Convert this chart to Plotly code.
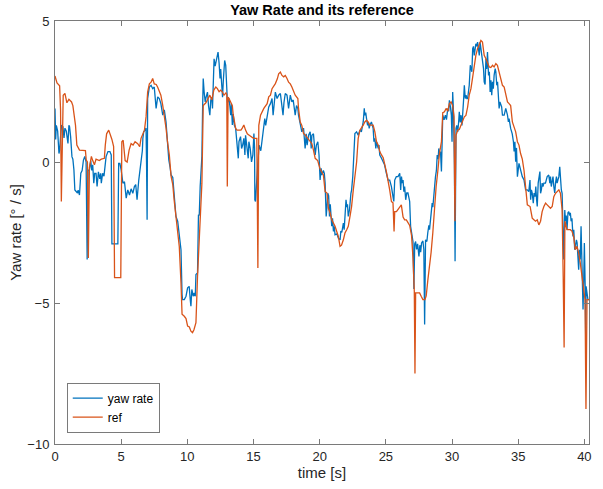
import plotly.graph_objects as go

# ---- data: yaw rate (measured) ----
t_yaw = [0.0, 0.05, 0.1, 0.2, 0.3, 0.35, 0.42, 0.5, 0.6, 0.68, 0.75, 0.85, 0.98, 1.05, 1.1, 1.18, 1.28, 1.35, 1.43, 1.5,
         1.6, 1.7, 1.75, 1.85, 1.95, 2.05, 2.15, 2.25, 2.35, 2.43, 2.5, 2.6, 2.7, 2.78, 2.85, 2.93, 3.0, 3.1, 3.18, 3.28,
         3.38, 3.45, 3.5, 3.6, 3.7, 3.78, 3.86, 4.0, 4.15, 4.25, 4.3, 4.75, 4.81, 4.9, 5.0, 5.13, 5.25, 5.38, 5.5, 5.63,
         5.75, 5.88, 6.0, 6.1, 6.2, 6.33, 6.5, 6.6, 6.64, 6.7, 6.8, 6.88, 6.92, 6.96, 7.0, 7.13, 7.26, 7.38, 7.5, 7.64,
         7.76, 7.88, 8.0, 8.14, 8.26, 8.39, 8.5, 8.6, 8.7, 8.77, 8.9, 9.0, 9.08, 9.14, 9.27, 9.39, 9.52, 9.6, 9.64, 9.77,
         9.9, 10.02, 10.14, 10.22, 10.27, 10.34, 10.44, 10.52, 10.6, 10.65, 10.77, 10.84, 10.9, 10.97, 11.02, 11.1, 11.15, 11.2, 11.27, 11.35,
         11.42, 11.52, 11.6, 11.7, 11.77, 11.85, 11.9, 11.97, 12.02, 12.1, 12.15, 12.22, 12.32, 12.4, 12.47, 12.52, 12.6, 12.66, 12.72, 12.82,
         12.9, 12.97, 13.03, 13.1, 13.15, 13.22, 13.28, 13.33, 13.4, 13.47, 13.55, 13.65, 13.77, 13.85, 13.9, 14.02, 14.1, 14.18, 14.27, 14.35,
         14.4, 14.5, 14.6, 14.65, 14.75, 14.85, 14.95, 15.03, 15.08, 15.1, 15.15, 15.25, 15.35, 15.42, 15.55, 15.65, 15.78, 15.85, 15.92, 16.03,
         16.15, 16.28, 16.4, 16.48, 16.55, 16.6, 16.65, 16.78, 16.9, 17.03, 17.12, 17.23, 17.3, 17.4, 17.53, 17.65, 17.78, 17.9, 18.0, 18.1,
         18.15, 18.25, 18.35, 18.4, 18.53, 18.65, 18.78, 18.85, 18.9, 18.98, 19.05, 19.16, 19.28, 19.36, 19.41, 19.53, 19.66, 19.75, 19.86, 19.95,
         20.03, 20.11, 20.16, 20.28, 20.35, 20.41, 20.49, 20.55, 20.61, 20.68, 20.74, 20.8, 20.86, 20.91, 20.97, 21.04, 21.1, 21.16, 21.3, 21.41,
         21.54, 21.6, 21.67, 21.79, 21.85, 21.91, 21.99, 22.05, 22.1, 22.16, 22.25, 22.36, 22.41, 22.5, 22.56, 22.61, 22.66, 22.79, 22.91, 23.04,
         23.15, 23.29, 23.37, 23.41, 23.48, 23.54, 23.62, 23.68, 23.74, 23.8, 23.91, 24.04, 24.1, 24.17, 24.24, 24.3, 24.42, 24.48, 24.54, 24.67,
         24.79, 24.9, 25.04, 25.17, 25.29, 25.42, 25.54, 25.6, 25.67, 25.79, 25.92, 26.05, 26.12, 26.18, 26.24, 26.3, 26.36, 26.42, 26.5, 26.58,
         26.67, 26.75, 26.8, 26.87, 26.95, 27.05, 27.12, 27.18, 27.25, 27.32, 27.4, 27.5, 27.57, 27.63, 27.7, 27.8, 27.87, 27.93, 28.0, 28.1,
         28.17, 28.25, 28.3, 28.42, 28.5, 28.55, 28.62, 28.68, 28.75, 28.82, 28.88, 28.95, 29.0, 29.08, 29.13, 29.2, 29.25, 29.3, 29.4, 29.5,
         29.58, 29.68, 29.75, 29.8, 29.88, 29.95, 30.0, 30.05, 30.12, 30.18, 30.23, 30.3, 30.36, 30.43, 30.5, 30.55, 30.62, 30.68, 30.75, 30.8,
         30.88, 30.93, 31.0, 31.06, 31.12, 31.18, 31.25, 31.3, 31.38, 31.43, 31.5, 31.56, 31.62, 31.68, 31.75, 31.8, 31.87, 31.93, 32.0, 32.06,
         32.12, 32.18, 32.24, 32.3, 32.38, 32.43, 32.5, 32.56, 32.62, 32.68, 32.76, 32.82, 32.88, 32.94, 33.0, 33.06, 33.12, 33.18, 33.26, 33.31,
         33.38, 33.44, 33.51, 33.56, 33.62, 33.69, 33.75, 33.81, 33.94, 34.06, 34.19, 34.26, 34.31, 34.43, 34.55, 34.64, 34.69, 34.75, 34.81, 34.87,
         34.94, 35.06, 35.18, 35.31, 35.44, 35.56, 35.69, 35.8, 35.89, 35.94, 36.0, 36.06, 36.14, 36.2, 36.27, 36.33, 36.39, 36.44, 36.51, 36.57,
         36.64, 36.69, 36.75, 36.81, 36.87, 36.94, 37.06, 37.19, 37.31, 37.39, 37.44, 37.5, 37.56, 37.63, 37.69, 37.76, 37.82, 37.89, 37.94, 38.07,
         38.14, 38.19, 38.26, 38.32, 38.4, 38.44, 38.52, 38.57, 38.63, 38.69, 38.76, 38.82, 38.9, 38.94, 39.0, 39.06, 39.14, 39.2, 39.27, 39.32,
         39.4, 39.45, 39.52, 39.57, 39.63, 39.69, 39.75, 39.82, 39.9, 39.95, 40.0, 40.07, 40.1, 40.13, 40.2, 40.27, 40.35]
yaw_rate = [1.9, 0.8, 1.3, 1.1, 0.3, 0.42, 0.9, 1.31, 1.25, 0.85, 1.2, 1.1, 0.66, 1.3, 1.25, 0.9, 0.19, 0.1, -0.28, -0.99,
            -1.05, -1.1, -1.0, -1.17, -0.4, -0.3, 0.07, 0.2, 0.0, -3.46, -0.3, -0.28, 0.05, -0.3, -0.1, -0.75, -0.4, -0.4, -0.87, -0.35,
            -0.6, -0.4, -0.75, -0.4, -0.5, -0.2, 0.19, 0.37, 0.37, 0.25, -2.9, -2.9, -0.05, -0.05, -0.28, -0.75, -0.7, -1.28, -0.99, -1.17,
            -0.95, -1.11, -0.87, -0.8, -1.34, -0.64, -0.05, 0.4, 0.84, 1.07, 1.13, 1.2, -0.17, -2.05, 2.25, 2.66, 2.72, 2.6, 2.66, 1.9,
            2.31, 2.25, 2.07, 1.66, 1.85, 1.42, 0.7, 0.07, -0.2, -0.46, -0.55, -1.23, -1.64, -1.93, -2.1, -2.52, -3.11, -4.7, -4.88, -4.88,
            -4.76, -4.46, -4.41, -4.88, -5.11, -4.52, -4.76, -4.64, -4.76, -3.99, -3.93, -1.87, -1.9, -0.87, -0.3, 0.2, 1.78, 2.96, 2.48, 2.13,
            2.3, 2.48, 2.0, 1.66, 2.19, 2.3, 1.9, 2.6, 3.66, 3.4, 3.54, 3.78, 3.9, 3.5, 2.96, 3.3, 2.72, 2.3, 2.9, 3.6,
            3.43, 2.25, 2.1, 2.19, 2.25, 1.95, 1.66, 2.07, 1.31, 1.7, 1.31, 1.19, 0.48, 0.13, 0.72, 0.9, 0.48, 0.6, 0.84, 0.25,
            0.95, 0.6, 0.13, 0.72, 0.48, 0.0, 0.25, 1.01, 0.5, -1.34, -1.4, -0.6, 0.07, 0.6, 0.4, 0.84, 1.31, 1.54, 1.3, 1.66,
            1.95, 2.07, 2.25, 1.66, 2.0, 2.25, 2.48, 2.25, 2.37, 2.43, 2.1, 1.66, 2.1, 2.43, 2.37, 1.9, 2.37, 2.13, 2.2, 1.9,
            1.66, 2.0, 1.9, 1.66, 1.3, 1.07, 1.2, 0.72, 0.48, 1.0, 0.6, 0.95, 1.07, 0.48, 0.95, 1.0, 0.25, 0.6, 0.72, 0.25,
            -0.64, -0.22, -0.46, -0.3, -0.4, -0.75, -1.93, -1.6, -1.11, -1.2, -1.93, -1.5, -2.1, -2.28, -2.0, -2.46, -2.28, -2.58, -2.55, -2.7,
            -2.76, -2.45, -2.5, -2.17, -2.4, -1.93, -1.34, -1.6, -1.5, -1.93, -1.7, -1.11, -1.0, -0.52, 0.3, 0.95, 1.01, 1.07, 0.95, 1.13,
            1.07, 1.42, 1.9, 1.66, 1.75, 1.54, 1.3, 1.42, 1.19, 1.31, 1.42, 1.19, 0.72, 0.84, 0.48, 0.72, 0.48, 0.6, 0.25, 0.13,
            0.0, -0.1, -0.4, -0.64, -0.64, -0.87, -1.23, -1.4, -0.64, -0.52, -0.52, -0.4, -0.99, -0.52, -0.75, -0.64, -1.05, -0.87, -1.34, -1.1,
            -1.1, -1.3, -1.4, -2.28, -2.5, -2.82, -4.5, -2.9, -2.82, -3.1, -2.9, -3.35, -2.95, -3.2, -2.87, -2.8, -3.1, -5.76, -2.76, -2.82,
            -2.5, -2.25, -2.4, -1.81, -1.46, -1.6, -1.1, -1.0, -0.52, -0.3, 0.25, 0.1, 0.48, 0.3, 0.37, -0.34, 0.95, 1.66, 1.5, 1.66,
            1.5, 1.9, 1.8, 2.19, 1.95, 1.66, 0.72, 2.48, 1.66, -0.1, -3.52, 1.19, 1.3, 1.07, 1.42, 1.78, 1.4, 1.66, 1.3, 1.9,
            2.25, 2.72, 2.25, 2.37, 2.25, 2.25, 2.6, 2.72, 3.43, 3.31, 3.2, 4.02, 4.1, 3.78, 4.0, 4.19, 4.1, 4.25, 4.0, 3.78,
            4.25, 4.0, 3.9, 3.66, 3.31, 2.84, 2.75, 3.66, 3.3, 3.9, 3.07, 3.2, 2.48, 2.9, 2.37, 2.84, 2.6, 3.07, 3.31, 3.2,
            2.72, 2.84, 2.25, 1.9, 2.13, 2.0, 1.95, 1.66, 1.66, 1.9, 1.66, 1.42, 1.54, 1.19, 1.0, 0.72, 0.37, 0.72, 0.01, 0.5,
            -0.52, -0.05, -0.28, -0.52, -0.64, -0.99, -0.99, -1.05, -0.64, -1.34, -0.99, -1.1, -1.46, -1.1, -1.23, -0.87, -1.34, -1.58, -0.75, -0.52,
            -0.34, -1.11, -0.99, -0.75, -0.87, -0.75, -0.75, -0.52, -0.46, -0.75, -0.52, -0.87, -0.6, -0.52, -0.87, -1.1, -0.75, -0.52, -0.75, -0.52,
            -0.17, -0.75, -0.99, -1.11, -2.76, -3.46, -1.7, -2.1, -1.9, -2.4, -1.8, -1.76, -1.9, -1.8, -2.1, -2.0, -2.64, -2.4, -3.11, -3.0,
            -2.76, -2.87, -3.35, -3.82, -3.11, -3.46, -2.28, -4.41, -5.23, -4.2, -2.87, -4.64, -6.2, -4.41, -4.64, -4.88, -4.88]

# ---- data: reference ----
t_ref = [0.0, 0.15, 0.35, 0.42, 0.48, 0.56, 0.62, 0.75, 0.9, 1.05, 1.25, 1.35, 1.42, 1.55, 1.65, 1.75, 1.85, 2.3, 2.36, 2.45,
         2.52, 2.6, 2.68, 2.75, 2.85, 2.98, 3.1, 3.35, 3.5, 3.73, 3.8, 3.9, 4.06, 4.2, 4.3, 4.43, 4.5, 4.97, 5.05, 5.15,
         5.3, 5.45, 5.6, 5.75, 5.9, 6.05, 6.25, 6.4, 6.5, 6.76, 6.88, 7.0, 7.13, 7.26, 7.38, 7.5, 7.65, 7.76, 7.88, 8.0,
         8.14, 8.26, 8.39, 8.5, 8.64, 8.77, 8.9, 9.0, 9.14, 9.27, 9.39, 9.52, 9.6, 9.77, 9.9, 10.02, 10.15, 10.27, 10.39, 10.5,
         10.65, 10.77, 10.9, 10.97, 11.1, 11.15, 11.2, 11.4, 11.55, 11.7, 11.85, 12.0, 12.15, 12.27, 12.4, 12.52, 12.64, 12.77, 12.92, 12.98,
         13.02, 13.08, 13.15, 13.3, 13.4, 13.47, 13.65, 13.75, 14.05, 14.15, 14.27, 14.4, 14.53, 14.65, 15.0, 15.25, 15.33, 15.4, 15.53, 15.78,
         16.03, 16.15, 16.28, 16.4, 16.65, 16.8, 16.9, 17.03, 17.15, 17.28, 17.4, 17.53, 17.65, 17.78, 17.9, 18.15, 18.35, 18.4, 18.53, 18.65,
         18.78, 18.9, 19.16, 19.41, 19.53, 19.66, 19.85, 20.03, 20.28, 20.41, 20.55, 20.66, 20.79, 20.91, 21.16, 21.41, 21.54, 21.65, 21.79, 21.91,
         22.04, 22.16, 22.29, 22.41, 22.54, 22.66, 22.79, 22.91, 23.04, 23.29, 23.41, 23.54, 23.66, 23.79, 24.04, 24.17, 24.29, 24.42, 24.54, 24.67,
         24.8, 25.04, 25.17, 25.29, 25.42, 25.54, 25.62, 25.67, 25.8, 26.05, 26.17, 26.3, 26.42, 26.55, 26.67, 26.8, 26.94, 27.05, 27.15, 27.2,
         27.25, 27.55, 27.67, 27.8, 27.95, 28.05, 28.17, 28.3, 28.42, 28.55, 28.67, 28.8, 28.93, 29.05, 29.2, 29.25, 29.3, 29.43, 29.55, 29.68,
         29.8, 29.93, 30.05, 30.15, 30.22, 30.3, 30.43, 30.55, 30.68, 30.8, 30.93, 31.05, 31.18, 31.3, 31.43, 31.56, 31.68, 31.8, 31.93, 32.06,
         32.18, 32.3, 32.43, 32.56, 32.68, 32.81, 32.93, 33.06, 33.18, 33.31, 33.43, 33.56, 33.69, 33.81, 33.94, 34.06, 34.19, 34.31, 34.43, 34.56,
         34.69, 34.81, 34.94, 35.06, 35.18, 35.31, 35.44, 35.56, 35.69, 35.9, 36.06, 36.19, 36.31, 36.44, 36.56, 36.69, 36.81, 36.94, 37.07, 37.19,
         37.31, 37.44, 37.57, 37.69, 37.82, 37.94, 38.07, 38.19, 38.32, 38.4, 38.47, 38.53, 38.69, 38.94, 39.06, 39.19, 39.31, 39.44, 39.57, 39.69,
         39.82, 39.94, 40.05, 40.12, 40.2, 40.35]
ref = [3.05, 2.8, 2.7, 1.84, -1.4, 1.0, 2.37, 2.43, 2.1, 2.22, 2.13, 2.0, 1.7, 1.3, 0.6, 0.5, 0.42, 0.4, 0.07, 0.0,
       -3.4, -0.2, 0.1, 0.2, 0.05, -0.1, 0.1, 0.05, 0.1, 0.13, 0.6, 1.0, 1.13, 0.95, 0.8, 0.55, -4.1, -4.1, 0.72, 0.77,
       0.05, 0.0, 0.42, 0.65, 0.6, 0.72, 0.65, 0.54, 0.84, 1.13, 1.6, 2.48, 2.77, 2.83, 2.96, 2.77, 2.75, 2.65, 2.48, 2.37,
       2.01, 1.66, 1.2, 0.72, 0.25, -0.5, -0.8, -1.34, -1.99, -2.4, -2.99, -4.29, -5.4, -5.47, -5.55, -5.82, -5.85, -6.0, -6.05, -5.95,
       -5.7, -4.05, -2.4, -2.05, -0.75, 0.42, 2.0, 2.1, 2.25, 2.37, 2.2, 2.55, 2.66, 2.6, 2.49, 2.55, 2.49, 2.37, 2.45, 2.4,
       -0.87, 2.3, 2.25, 2.07, 2.0, 1.66, 1.19, 1.13, 1.13, 1.2, 1.31, 1.13, 1.0, 0.96, 0.84, 0.84, -3.76, 1.3, 1.66, 1.9,
       2.07, 2.31, 2.37, 2.6, 2.78, 2.95, 3.13, 3.19, 3.07, 3.02, 3.07, 2.96, 2.83, 2.77, 2.66, 2.37, 2.25, 1.9, 1.42, 1.3,
       1.01, 0.96, 0.8, 0.65, 0.42, 0.13, 0.05, -0.25, -0.46, -1.05, -1.1, -1.64, -1.81, -2.05, -2.28, -2.64, -2.99, -2.95, -2.76, -2.52,
       -2.4, -2.28, -1.93, -1.58, -0.99, -0.52, 0.0, 0.84, 1.13, 1.31, 1.42, 1.48, 1.42, 1.31, 1.31, 1.07, 0.72, 0.6, 0.37, 0.25,
       0.15, -0.34, -0.64, -0.99, -1.4, -1.45, -2.46, -1.76, -1.76, -1.58, -1.52, -1.95, -2.05, -2.05, -2.17, -2.25, -2.6, -3.4, -4.6, -7.5,
       -4.64, -4.64, -4.76, -4.88, -4.88, -4.75, -4.2, -3.7, -3.2, -2.5, -1.55, -0.87, -0.3, 0.3, 0.72, 1.19, 1.75, 1.78, 1.9, 1.8,
       2.07, 2.13, 2.0, 1.6, -2.1, 0.95, 1.13, 1.15, 1.31, 1.4, 1.6, 1.65, 1.95, 2.37, 2.6, 3.01, 3.43, 3.78, 4.02, 4.14,
       4.31, 4.25, 3.78, 3.66, 3.54, 3.37, 3.35, 3.43, 3.37, 3.49, 3.43, 3.19, 2.96, 2.72, 2.66, 2.37, 2.13, 2.07, 2.0, 1.42,
       1.19, 1.07, 0.72, 0.6, 0.3, 0.1, -0.3, -0.99, -1.52, -1.58, -1.99, -2.05, -2.1, -2.05, -2.23, -2.1, -1.76, -1.58, -1.46, -1.52,
       -1.58, -1.64, -1.58, -1.23, -1.11, -1.05, -0.99, -1.11, -1.7, -4.05, -6.58, -2.1, -2.4, -2.4, -2.45, -2.64, -3.11, -2.99, -3.23, -3.58,
       -4.05, -4.41, -4.88, -8.76, -4.88, -4.88]

x_ticks = [0, 5, 10, 15, 20, 25, 30, 35, 40]
y_ticks = [-10, -5, 0, 5]

BLUE = "#0072BD"
ORANGE = "#D95319"
AX = "#262626"
FONT = "Liberation Sans, Arial, sans-serif"

fig = go.Figure()
fig.add_trace(go.Scatter(x=t_yaw, y=yaw_rate, mode="lines", name="yaw rate",
                         line=dict(color=BLUE, width=1.3)))
fig.add_trace(go.Scatter(x=t_ref, y=ref, mode="lines", name="ref",
                         line=dict(color=ORANGE, width=1.3)))

axis_common = dict(
    showline=True, linecolor="#7a7a7a", linewidth=1, mirror="ticks",
    ticks="inside", ticklen=5, tickwidth=1, tickcolor="#7a7a7a",
    showgrid=False, zeroline=False,
    tickfont=dict(family=FONT, size=13, color=AX),
)

fig.update_layout(
    width=603, height=489,
    margin=dict(l=55, r=11, t=21, b=45),
    plot_bgcolor="white", paper_bgcolor="white",
    title=dict(text="<b>Yaw Rate and its reference</b>", x=0.534, xanchor="center",
               y=0.979, yanchor="middle", yref="container",
               font=dict(family=FONT, size=14.5, color="black")),
    xaxis=dict(range=[0, 40.35], tickvals=x_ticks,
               title=dict(text="time [s]", standoff=2,
                          font=dict(family=FONT, size=15, color=AX)),
               **axis_common),
    yaxis=dict(range=[-10, 5], tickvals=y_ticks, ticklabelstandoff=2,
               title=dict(text="Yaw rate [° / s]", standoff=2,
                          font=dict(family=FONT, size=15, color=AX)),
               **axis_common),
    legend=dict(x=0.022, y=0.027, xanchor="left", yanchor="bottom",
                bgcolor="white", bordercolor="#7a7a7a", borderwidth=1,
                font=dict(family=FONT, size=12, color="black"),
                tracegroupgap=0, itemwidth=30),
    showlegend=True,
)

fig.write_html("out.html")
